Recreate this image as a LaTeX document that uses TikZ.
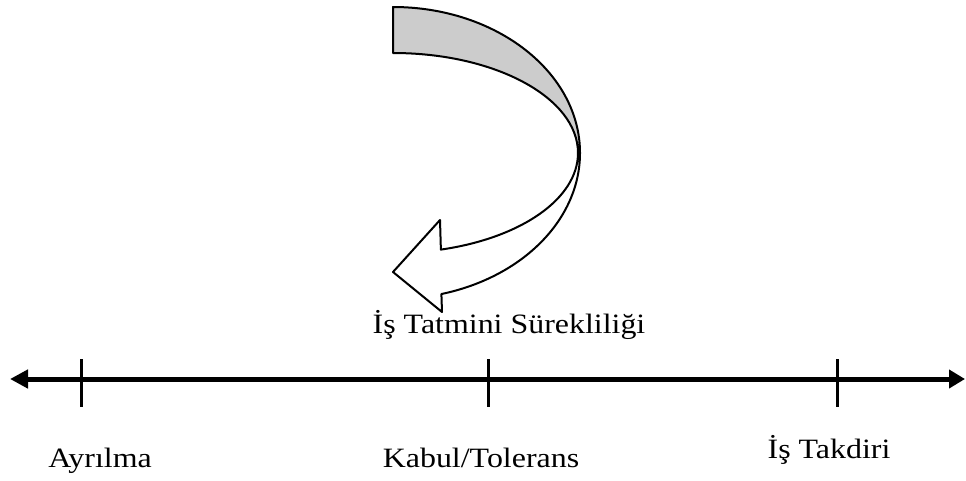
\documentclass[tikz,border=0pt]{standalone}
\usepackage{fontspec}
\setmainfont{Liberation Serif}[FakeStretch=1.14]
\usetikzlibrary{calc,arrows.meta}
\tikzset{
  lbl/.style={anchor=base, inner sep=0pt, font=\fontsize{28}{33}\selectfont},
  tickline/.style={line width=3pt},
  bandline/.style={line width=2pt, line join=round}
}
\begin{document}
\begin{tikzpicture}[x=1pt,y=-1pt]
        \useasboundingbox (0,0) rectangle (966,480);
        %
        \def\rxOut{187}
        \def\ryOut{146}
        \def\rxIn{185}
        \def\ryIn{100}

        \coordinate (O) at (393,153);
        \coordinate (L) at (10,379);
        \coordinate (R) at (965,379);

        %
        \draw[bandline, fill=gray!40] ($(O)+(0,-\ryOut)$) -- ($(O)+(0,-\ryIn)$)
            arc[start angle=-90, end angle=0, x radius=\rxIn, y radius=\ryIn]
            -- ($(O)+(\rxOut,0)$)
            arc[start angle=0, end angle=-90, x radius=\rxOut, y radius=\ryOut] -- cycle;
        \draw[bandline, fill=white] ($(O)+(\rxOut,0)$)
            arc[start angle=0, end angle=75, x radius=\rxOut, y radius=\ryOut]
            -- (442,312) -- (393,272) -- (440,220) -- ($(O)+({\rxIn*cos(75)},{\ryIn*sin(75)})$)
            arc[start angle=75, end angle=0, x radius=\rxIn, y radius=\ryIn] -- cycle;

        %
        \draw[line width=5pt, {Triangle[length=18pt,width=18pt]}-{Triangle[length=16pt,width=18pt]}] (L) -- (R);
        \foreach \x in {81,488,837}
            \draw[tickline] (\x,359) -- (\x,407);

        \node[lbl] (sure) at (509,333) {İş Tatmini Sürekliliği};
        \node[lbl] (ayr) at (100,467) {Ayrılma};
        \node[lbl] (kabul) at (481,467) {Kabul/Tolerans};
        \node[lbl] (takdir) at (829,458) {İş Takdiri};
    \end{tikzpicture}
\end{document}
